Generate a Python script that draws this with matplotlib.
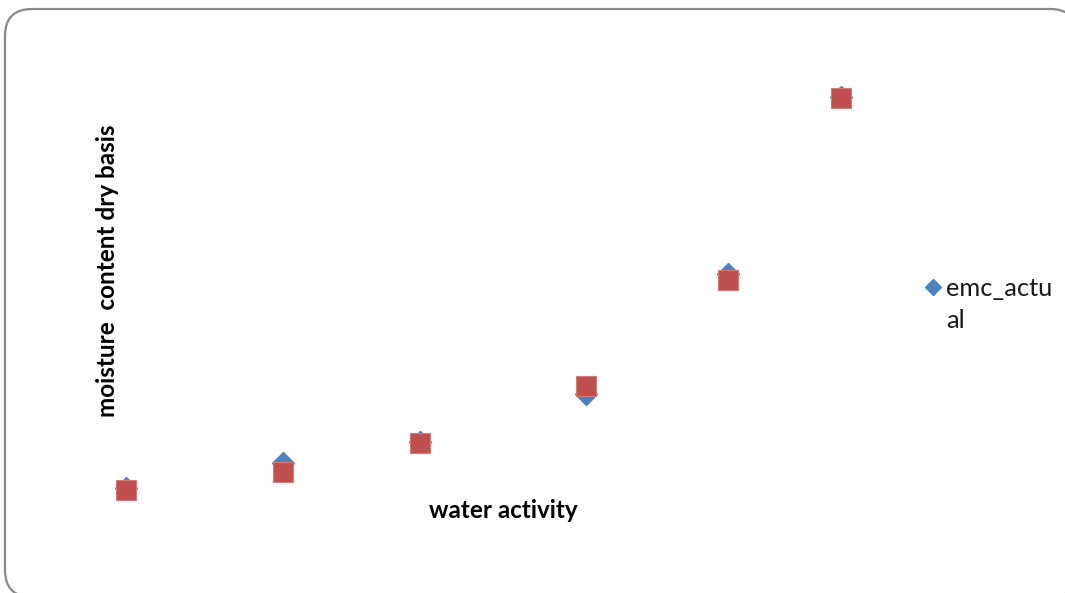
import matplotlib.pyplot as plt
from matplotlib.patches import FancyBboxPatch
from matplotlib.lines import Line2D
from matplotlib.transforms import IdentityTransform

# sorption isotherm: measured vs. fitted equilibrium moisture content
water_activity = [0.11, 0.27, 0.41, 0.58, 0.725, 0.84]
emc_actual = [5.0, 6.7, 8.1, 11.3, 19.3, 31.1]
emc_predicted = [4.9, 6.1, 8.0, 11.8, 18.9, 31.0]

W, H, DPI = 1065, 593, 100
fig = plt.figure(figsize=(W / DPI, H / DPI), dpi=DPI)
fig.patch.set_facecolor('white')

# plot area (no visible axes, Excel style)
ax = fig.add_axes([100 / W, (H - 520) / H, 770 / W, 480 / H])
ax.set_xlim(0.0834, 0.870)
ax.set_ylim(2.87, 34.87)
ax.axis('off')

ax.plot(water_activity, emc_actual, linestyle='none', marker='D',
        markersize=11, color='#4F81BD', markeredgecolor='#4F81BD',
        label='emc_actual')
ax.plot(water_activity, emc_predicted, linestyle='none', marker='s',
        markersize=15, color='#C0504D', markeredgecolor='#D37B79',
        markeredgewidth=0.8)

font = ['Lato', 'DejaVu Sans']
fig.text(503 / W, 1 - 510 / H, 'water activity', ha='center', va='center',
         fontsize=17.5, fontweight='bold', family=font)
fig.text(108 / W, 1 - 271 / H, 'moisture  content dry basis', ha='center',
         va='center', rotation=90, fontsize=17.5, fontweight='bold',
         family=font)

# legend entry drawn by hand so the wrapped label sits like Excel's
fig.add_artist(Line2D([933 / W], [1 - 287 / H], marker='D', markersize=8.5,
                      color='#4F81BD', linestyle='none',
                      transform=fig.transFigure))
fig.text(946 / W, 1 - 277 / H, 'emc_actu\nal', ha='left', va='top',
         fontsize=18.3, family=font, linespacing=1.48, color='#1a1a1a')

# rounded chart border in pixels, partly off the canvas; filled white and
# kept behind everything so Agg doesn't clip the curved corner badly
border = FancyBboxPatch((5, -4), 1072, 588,
                        boxstyle='round,pad=0,rounding_size=27',
                        transform=IdentityTransform(), facecolor='white',
                        edgecolor='#8a8a8a', linewidth=1.6, zorder=-1)
fig.add_artist(border)

fig.savefig('out.png', dpi=DPI)
